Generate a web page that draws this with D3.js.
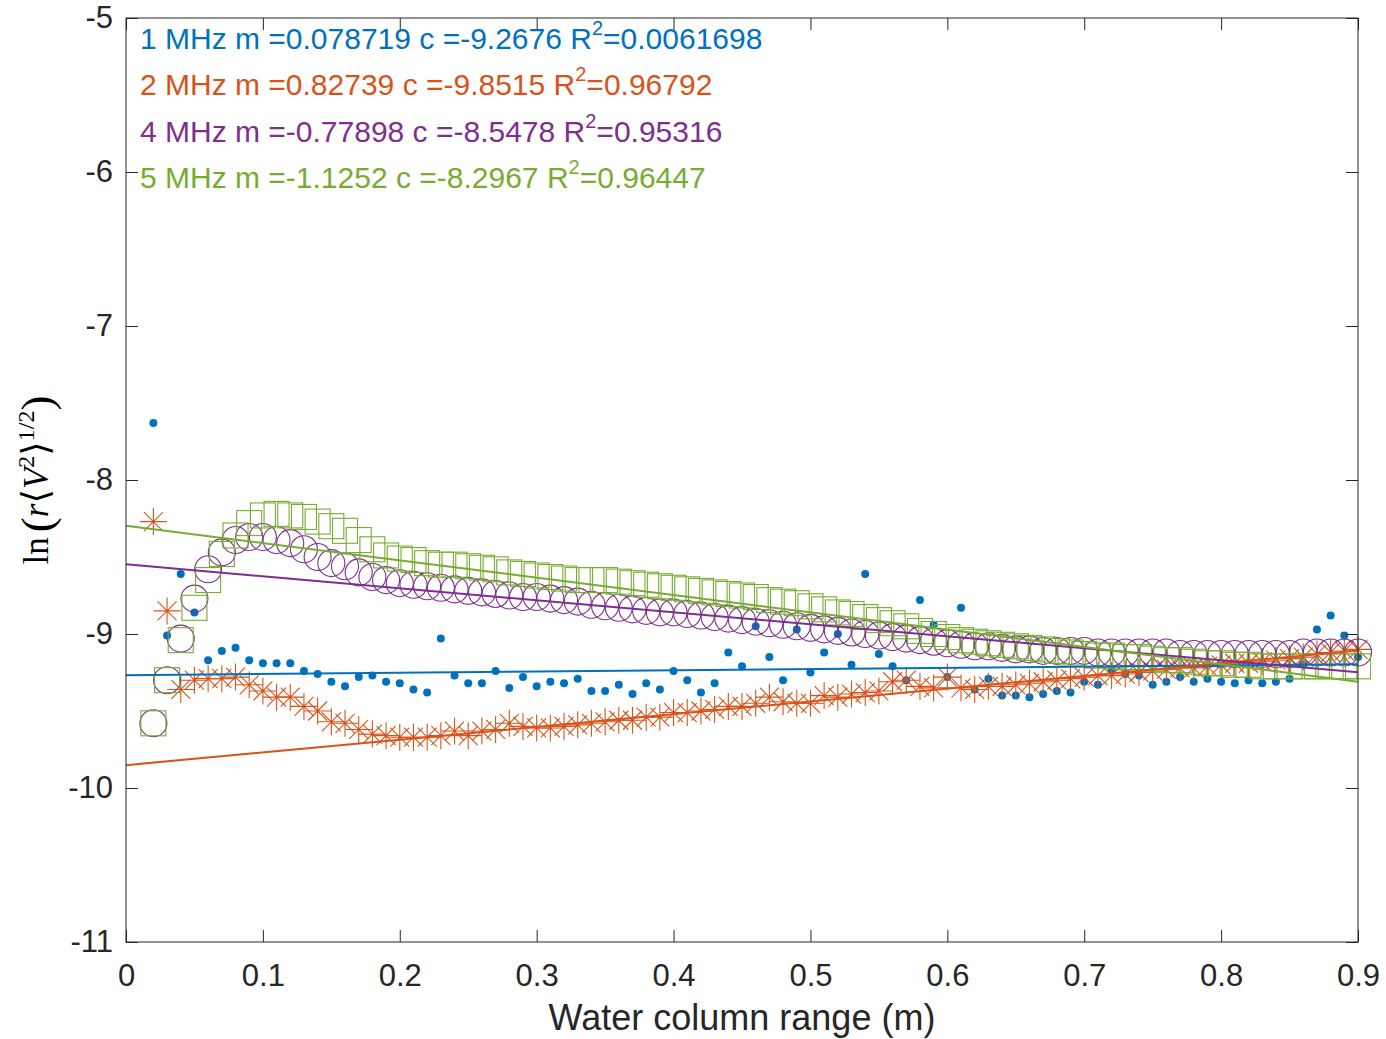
<!DOCTYPE html>
<html>
<head>
<meta charset="utf-8">
<script src="https://cdn.jsdelivr.net/npm/d3@7"></script>
<style>
  body { margin: 0; background: #fff; }
  svg { font-family: "Liberation Sans", Arial, sans-serif; }
</style>
</head>
<body>
<div id="chart"></div>
<script>
// sample positions along the water column (m)
const ranges = [0.02, 0.03, 0.04, 0.05, 0.06, 0.07, 0.08, 0.09, 0.10, 0.11, 0.12, 0.13, 0.14, 0.15, 0.16, 0.17,
  0.18, 0.19, 0.20, 0.21, 0.22, 0.23, 0.24, 0.25, 0.26, 0.27, 0.28, 0.29, 0.30, 0.31, 0.32, 0.33, 0.34,
  0.35, 0.36, 0.37, 0.38, 0.39, 0.40, 0.41, 0.42, 0.43, 0.44, 0.45, 0.46, 0.47, 0.48, 0.49, 0.50, 0.51, 0.52,
  0.53, 0.54, 0.55, 0.56, 0.57, 0.58, 0.59, 0.60, 0.61, 0.62, 0.63, 0.64, 0.65, 0.66, 0.67, 0.68, 0.69, 0.70, 0.71,
  0.72, 0.73, 0.74, 0.75, 0.76, 0.77, 0.78, 0.79, 0.80, 0.81, 0.82, 0.83, 0.84, 0.85, 0.86, 0.87, 0.88, 0.89, 0.90];

const mhz1 = [-7.63, -9.01, -8.61, -8.86, -9.17, -9.11, -9.09, -9.17, -9.19, -9.19, -9.19, -9.24, -9.26, -9.31, -9.34, -9.28,
  -9.27, -9.31, -9.32, -9.36, -9.38, -9.03, -9.27, -9.32, -9.32, -9.24, -9.35, -9.28, -9.34, -9.31, -9.32, -9.29, -9.37,
  -9.37, -9.33, -9.39, -9.32, -9.36, -9.24, -9.30, -9.38, -9.32, -9.12, -9.21, -8.95, -9.15, -9.30, -8.97, -9.25, -9.12, -9.00,
  -9.20, -8.61, -9.13, -9.21, -9.30, -8.78, -8.94, -9.28, -8.83, -9.36, -9.29, -9.40, -9.40, -9.41, -9.39, -9.37, -9.38, -9.31, -9.33,
  -9.23, -9.26, -9.27, -9.33, -9.31, -9.28, -9.31, -9.29, -9.31, -9.32, -9.30, -9.32, -9.31, -9.29, -9.20, -8.97, -8.88, -9.01, -9.15];

const mhz2 = [-8.27, -8.85, -9.36, -9.30, -9.29, -9.29, -9.28, -9.33, -9.37, -9.41, -9.41, -9.47, -9.50, -9.57, -9.58, -9.62,
  -9.65, -9.66, -9.67, -9.67, -9.67, -9.66, -9.63, -9.66, -9.63, -9.62, -9.58, -9.60, -9.61, -9.61, -9.60, -9.59, -9.58,
  -9.57, -9.56, -9.56, -9.54, -9.54, -9.51, -9.51, -9.50, -9.49, -9.47, -9.47, -9.45, -9.41, -9.44, -9.45, -9.45, -9.40, -9.41,
  -9.39, -9.38, -9.37, -9.31, -9.30, -9.34, -9.35, -9.28, -9.35, -9.36, -9.34, -9.34, -9.33, -9.32, -9.31, -9.30, -9.29, -9.28, -9.27,
  -9.27, -9.26, -9.25, -9.24, -9.23, -9.22, -9.22, -9.21, -9.20, -9.19, -9.19, -9.18, -9.17, -9.16, -9.15, -9.13, -9.12, -9.11, -9.10];

const mhz4 = [-9.58, -9.30, -9.03, -8.77, -8.58, -8.47, -8.39, -8.37, -8.37, -8.39, -8.41, -8.45, -8.50, -8.54, -8.56, -8.60,
  -8.63, -8.65, -8.67, -8.68, -8.69, -8.70, -8.71, -8.72, -8.73, -8.74, -8.75, -8.76, -8.76, -8.77, -8.78, -8.79, -8.81,
  -8.82, -8.83, -8.84, -8.85, -8.86, -8.86, -8.87, -8.88, -8.89, -8.90, -8.91, -8.92, -8.93, -8.94, -8.95, -8.96, -8.97, -8.98,
  -8.99, -9.00, -9.01, -9.02, -9.03, -9.04, -9.05, -9.06, -9.07, -9.08, -9.08, -9.09, -9.10, -9.10, -9.11, -9.11, -9.11, -9.11, -9.12,
  -9.12, -9.12, -9.12, -9.12, -9.12, -9.13, -9.13, -9.13, -9.13, -9.13, -9.13, -9.13, -9.13, -9.13, -9.12, -9.12, -9.12, -9.12, -9.12];

const mhz5 = [-9.58, -9.30, -9.04, -8.83, -8.65, -8.48, -8.36, -8.28, -8.23, -8.22, -8.23, -8.24, -8.27, -8.30, -8.33, -8.39,
  -8.45, -8.49, -8.51, -8.52, -8.54, -8.55, -8.55, -8.56, -8.57, -8.58, -8.60, -8.61, -8.62, -8.63, -8.64, -8.65, -8.65,
  -8.65, -8.66, -8.67, -8.68, -8.69, -8.70, -8.71, -8.72, -8.73, -8.74, -8.75, -8.76, -8.78, -8.79, -8.80, -8.82, -8.84, -8.86,
  -8.87, -8.89, -8.91, -8.93, -8.95, -8.98, -9.00, -9.02, -9.04, -9.05, -9.06, -9.07, -9.08, -9.09, -9.10, -9.11, -9.12, -9.13, -9.14,
  -9.14, -9.15, -9.15, -9.16, -9.17, -9.17, -9.18, -9.19, -9.19, -9.20, -9.20, -9.21, -9.21, -9.21, -9.21, -9.21, -9.21, -9.21, -9.21];

// linear fit results shown in the annotation
const freqLabels = ["1 MHz", "2 MHz", "4 MHz", "5 MHz"];
const slopes = [0.078719, 0.82739, -0.77898, -1.1252];
const intercepts = [-9.2676, -9.8515, -8.5478, -8.2967];
const rSquared = ["0.0061698", "0.96792", "0.95316", "0.96447"];
const slopeText = ["0.078719", "0.82739", "-0.77898", "-1.1252"];
const interceptText = ["-9.2676", "-9.8515", "-8.5478", "-8.2967"];

const xTicks = [0, 0.1, 0.2, 0.3, 0.4, 0.5, 0.6, 0.7, 0.8, 0.9];
const yTicks = [-11, -10, -9, -8, -7, -6, -5];

const colors = ["#0072BD", "#D95319", "#7E2F8E", "#77AC30"];
const markers = ["dot", "asterisk", "circle", "square"];

const W = 1386, H = 1039;
const margin = {top: 18, right: 28, bottom: 97, left: 126};

const svg = d3.select("#chart").append("svg")
    .attr("width", W)
    .attr("height", H);

const x = d3.scaleLinear()
    .domain([0, 0.9])
    .range([margin.left, W - margin.right]);

const y = d3.scaleLinear()
    .domain([-11, -5])
    .range([H - margin.bottom, margin.top]);

const series = [mhz1, mhz2, mhz4, mhz5].map((vals, i) => ({
    values: vals.map((v, j) => ({x: ranges[j], y: v})),
    color: colors[i],
    marker: markers[i],
    m: slopes[i],
    c: intercepts[i]
}));

const plot = svg.append("g");

series.forEach(s => {
    const g = plot.append("g");
    if (s.marker === "dot") {
        g.selectAll("circle")
            .data(s.values)
            .join("circle")
                .attr("cx", d => x(d.x))
                .attr("cy", d => y(d.y))
                .attr("r", 4)
                .attr("fill", s.color);
    } else if (s.marker === "asterisk") {
        const a = 13.5, b = 9.5;
        g.selectAll("path")
            .data(s.values)
            .join("path")
                .attr("transform", d => `translate(${x(d.x)},${y(d.y)})`)
                .attr("d", `M${-a},0H${a}M0,${-a}V${a}M${-b},${-b}L${b},${b}M${-b},${b}L${b},${-b}`)
                .attr("stroke", s.color)
                .attr("stroke-width", 1.1)
                .attr("fill", "none");
    } else if (s.marker === "circle") {
        g.selectAll("circle")
            .data(s.values)
            .join("circle")
                .attr("cx", d => x(d.x))
                .attr("cy", d => y(d.y))
                .attr("r", 13.5)
                .attr("fill", "none")
                .attr("stroke", s.color)
                .attr("stroke-width", 1.1);
    } else {
        g.selectAll("rect")
            .data(s.values)
            .join("rect")
                .attr("x", d => x(d.x) - 12.5)
                .attr("y", d => y(d.y) - 12.5)
                .attr("width", 25)
                .attr("height", 25)
                .attr("fill", "none")
                .attr("stroke", s.color)
                .attr("stroke-width", 1.1);
    }
});

// fitted lines over the whole axis range
series.forEach(s => {
    plot.append("line")
        .attr("x1", x(0))
        .attr("y1", y(s.c))
        .attr("x2", x(0.9))
        .attr("y2", y(s.m * 0.9 + s.c))
        .attr("stroke", s.color)
        .attr("stroke-width", 2);
});

// axes box, ticks pointing inward like MATLAB
const axisColor = "#262626";
const tickLen = 12;
const tickFont = 31;

svg.append("rect")
    .attr("x", x(0))
    .attr("y", y(-5))
    .attr("width", x(0.9) - x(0))
    .attr("height", y(-11) - y(-5))
    .attr("fill", "none")
    .attr("stroke", axisColor)
    .attr("stroke-width", 1);

svg.append("g")
    .attr("transform", `translate(0,${y(-11)})`)
    .call(d3.axisBottom(x).tickValues(xTicks).tickSizeInner(-tickLen).tickSizeOuter(0).tickPadding(22)
        .tickFormat(d => d === 0 ? "0" : d3.format(".1f")(d)))
    .call(g => g.select(".domain").remove())
    .call(g => g.selectAll("line").attr("stroke", axisColor))
    .call(g => g.selectAll("text").attr("font-size", tickFont).attr("fill", axisColor).attr("font-family", "Liberation Sans, Arial, sans-serif"));

svg.append("g")
    .attr("transform", `translate(0,${y(-5)})`)
    .call(d3.axisTop(x).tickValues(xTicks).tickSizeInner(-tickLen).tickSizeOuter(0).tickFormat(""))
    .call(g => g.select(".domain").remove())
    .call(g => g.selectAll("line").attr("stroke", axisColor));

svg.append("g")
    .attr("transform", `translate(${x(0)},0)`)
    .call(d3.axisLeft(y).tickValues(yTicks).tickSizeInner(-tickLen).tickSizeOuter(0).tickPadding(13)
        .tickFormat(d => d3.format("d")(d).replace("−", "-")))
    .call(g => g.select(".domain").remove())
    .call(g => g.selectAll("line").attr("stroke", axisColor))
    .call(g => g.selectAll("text").attr("font-size", tickFont).attr("fill", axisColor).attr("font-family", "Liberation Sans, Arial, sans-serif"));

svg.append("g")
    .attr("transform", `translate(${x(0.9)},0)`)
    .call(d3.axisRight(y).tickValues(yTicks).tickSizeInner(-tickLen).tickSizeOuter(0).tickFormat(""))
    .call(g => g.select(".domain").remove())
    .call(g => g.selectAll("line").attr("stroke", axisColor));

// x label
svg.append("text")
    .attr("x", (x(0) + x(0.9)) / 2)
    .attr("y", 1030)
    .attr("text-anchor", "middle")
    .attr("font-size", 36)
    .attr("fill", axisColor)
    .text("Water column range (m)");

// y label, latex-like
const yl = svg.append("text")
    .attr("transform", `translate(48,${(y(-5) + y(-11)) / 2}) rotate(-90)`)
    .attr("text-anchor", "middle")
    .attr("font-family", "Liberation Serif, DejaVu Serif, serif")
    .attr("font-size", 35)
    .attr("fill", "#000");
yl.append("tspan").text("ln");
yl.append("tspan").attr("dx", 5).attr("font-size", 45).attr("dy", 4).text("(");
yl.append("tspan").attr("font-style", "italic").attr("dy", -4).text("r");
yl.append("tspan").attr("font-size", 37).text("⟨");
yl.append("tspan").attr("font-style", "italic").text("V");
yl.append("tspan").attr("font-size", 24).attr("dy", -14).text("2");
yl.append("tspan").attr("font-size", 37).attr("dy", 14).text("⟩");
yl.append("tspan").attr("font-size", 24).attr("dy", -14).text("1/2");
yl.append("tspan").attr("font-size", 45).attr("dy", 18).text(")");

// fit annotation
const notes = svg.append("g")
    .attr("font-size", 30);

freqLabels.forEach((f, i) => {
    const t = notes.append("text")
        .attr("x", 140)
        .attr("y", 49 + i * 46.3)
        .attr("fill", colors[i]);
    t.append("tspan").text(`${f} m =${slopeText[i]} c =${interceptText[i]} R`);
    t.append("tspan").attr("font-size", 20).attr("dy", -14).text("2");
    t.append("tspan").attr("dy", 14).text(`=${rSquared[i]}`);
});
</script>
</body>
</html>
